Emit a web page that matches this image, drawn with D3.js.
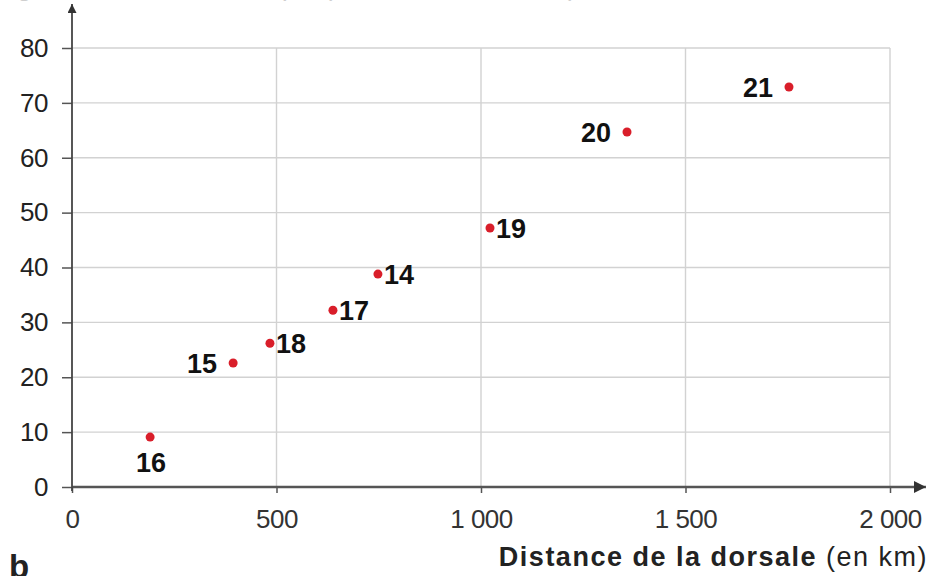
<!DOCTYPE html>
<html>
<head>
<meta charset="utf-8">
<script src="https://cdn.jsdelivr.net/npm/d3@7"></script>
<style>
  body { margin: 0; background: #fff; }
  svg { display: block; font-family: "Liberation Sans", Arial, sans-serif; }
</style>
</head>
<body>
<div id="chart"></div>
<script>
// sites de forage : numéro, distance à la dorsale (km), âge (Ma)
const sites = ['16', '15', '18', '17', '14', '19', '20', '21'];
const distances = [191, 394, 484, 638, 748, 1022, 1357, 1753];
const ages = [9.1, 22.6, 26.2, 32.2, 38.8, 47.2, 64.7, 72.9];
const labelSide = ['below', 'left', 'right', 'right', 'right', 'right', 'left', 'left'];

const xTicks = [0, 500, 1000, 1500, 2000];
const yTicks = [0, 10, 20, 30, 40, 50, 60, 70, 80];

const w = 933;
const h = 576;

const svg = d3.select('#chart').append('svg').attr('width', w).attr('height', h);

const xScale = d3.scaleLinear().domain([0, 2000]).range([72, 890]);
const yScale = d3.scaleLinear().domain([0, 80]).range([487, 48]);

const fmt = (d) => d >= 1000 ? String(d).replace(/(\d)(\d{3})$/, '$1 $2') : String(d);

// quadrillage
svg.append('g')
   .selectAll('line')
   .data(yTicks.slice(1))
   .enter()
   .append('line')
   .attr('x1', xScale(0))
   .attr('x2', xScale(2000))
   .attr('y1', d => yScale(d))
   .attr('y2', d => yScale(d))
   .attr('stroke', '#d2d2d2')
   .attr('stroke-width', 1.4);

svg.append('g')
   .selectAll('line')
   .data(xTicks.slice(1))
   .enter()
   .append('line')
   .attr('x1', d => xScale(d))
   .attr('x2', d => xScale(d))
   .attr('y1', yScale(80))
   .attr('y2', yScale(0))
   .attr('stroke', '#d2d2d2')
   .attr('stroke-width', 1.4);

// axes
const yAxis = d3.axisLeft(yScale).tickValues(yTicks).tickSize(10).tickPadding(14);
const gy = svg.append('g').attr('transform', `translate(${xScale(0)},0)`).call(yAxis);
gy.select('.domain').remove();
gy.selectAll('line').attr('stroke', '#555').attr('stroke-width', 1.5);
gy.selectAll('text').attr('font-size', 26).attr('fill', '#222').attr('letter-spacing', -0.5);

const xAxis = d3.axisBottom(xScale).tickValues(xTicks).tickSize(6).tickPadding(17).tickFormat(fmt);
const gx = svg.append('g').attr('transform', `translate(0,${yScale(0)})`).call(xAxis);
gx.select('.domain').remove();
gx.selectAll('line').attr('stroke', '#555').attr('stroke-width', 1.5);
gx.selectAll('text').attr('font-size', 26).attr('fill', '#333').attr('letter-spacing', -0.5);

svg.append('defs').append('marker')
   .attr('id', 'arrow')
   .attr('viewBox', '0 0 10 10')
   .attr('refX', 10).attr('refY', 5)
   .attr('markerWidth', 5).attr('markerHeight', 5)
   .attr('orient', 'auto')
   .append('path').attr('d', 'M0,0 L10,5 L0,10 Z').attr('fill', '#333');

svg.append('line')
   .attr('x1', xScale(0)).attr('x2', 926)
   .attr('y1', yScale(0)).attr('y2', yScale(0))
   .attr('stroke', '#555').attr('stroke-width', 2.5)
   .attr('marker-end', 'url(#arrow)');

svg.append('line')
   .attr('x1', xScale(0)).attr('x2', xScale(0))
   .attr('y1', yScale(0) + 4).attr('y2', 4)
   .attr('stroke', '#444').attr('stroke-width', 1.8)
   .attr('marker-end', 'url(#arrow)');

// points
const pts = svg.append('g')
   .selectAll('g')
   .data(sites)
   .enter()
   .append('g')
   .attr('transform', (d, i) => `translate(${xScale(distances[i])},${yScale(ages[i])})`);

pts.append('circle').attr('r', 4.5).attr('fill', '#d91e2a');

pts.append('text')
   .text(d => d)
   .attr('font-size', 27)
   .attr('font-weight', 'bold')
   .attr('fill', '#111')
   .attr('dominant-baseline', 'central')
   .attr('text-anchor', (d, i) => labelSide[i] == 'left' ? 'end' : labelSide[i] == 'right' ? 'start' : 'middle')
   .attr('x', (d, i) => labelSide[i] == 'left' ? -16 : labelSide[i] == 'right' ? 6 : 1)
   .attr('y', (d, i) => labelSide[i] == 'below' ? 26 : 1);

// titres
svg.append('text')
   .attr('x', 0).attr('y', -4)
   .attr('font-size', 26)
   .attr('fill', '#cfcfcf')
   .text('Âge de la croûte océanique (en millions d\u2019années)');

const title = svg.append('text')
   .attr('x', 928).attr('y', 566)
   .attr('text-anchor', 'end')
   .attr('font-size', 27)
   .attr('letter-spacing', 1.5)
   .attr('fill', '#222');
title.append('tspan').attr('font-weight', 'bold').text('Distance de la dorsale');
title.append('tspan').text(' (en km)');

svg.append('text')
   .attr('x', 9).attr('y', 578)
   .attr('font-size', 33)
   .attr('font-weight', 'bold')
   .attr('fill', '#222')
   .text('b');
</script>
</body>
</html>
